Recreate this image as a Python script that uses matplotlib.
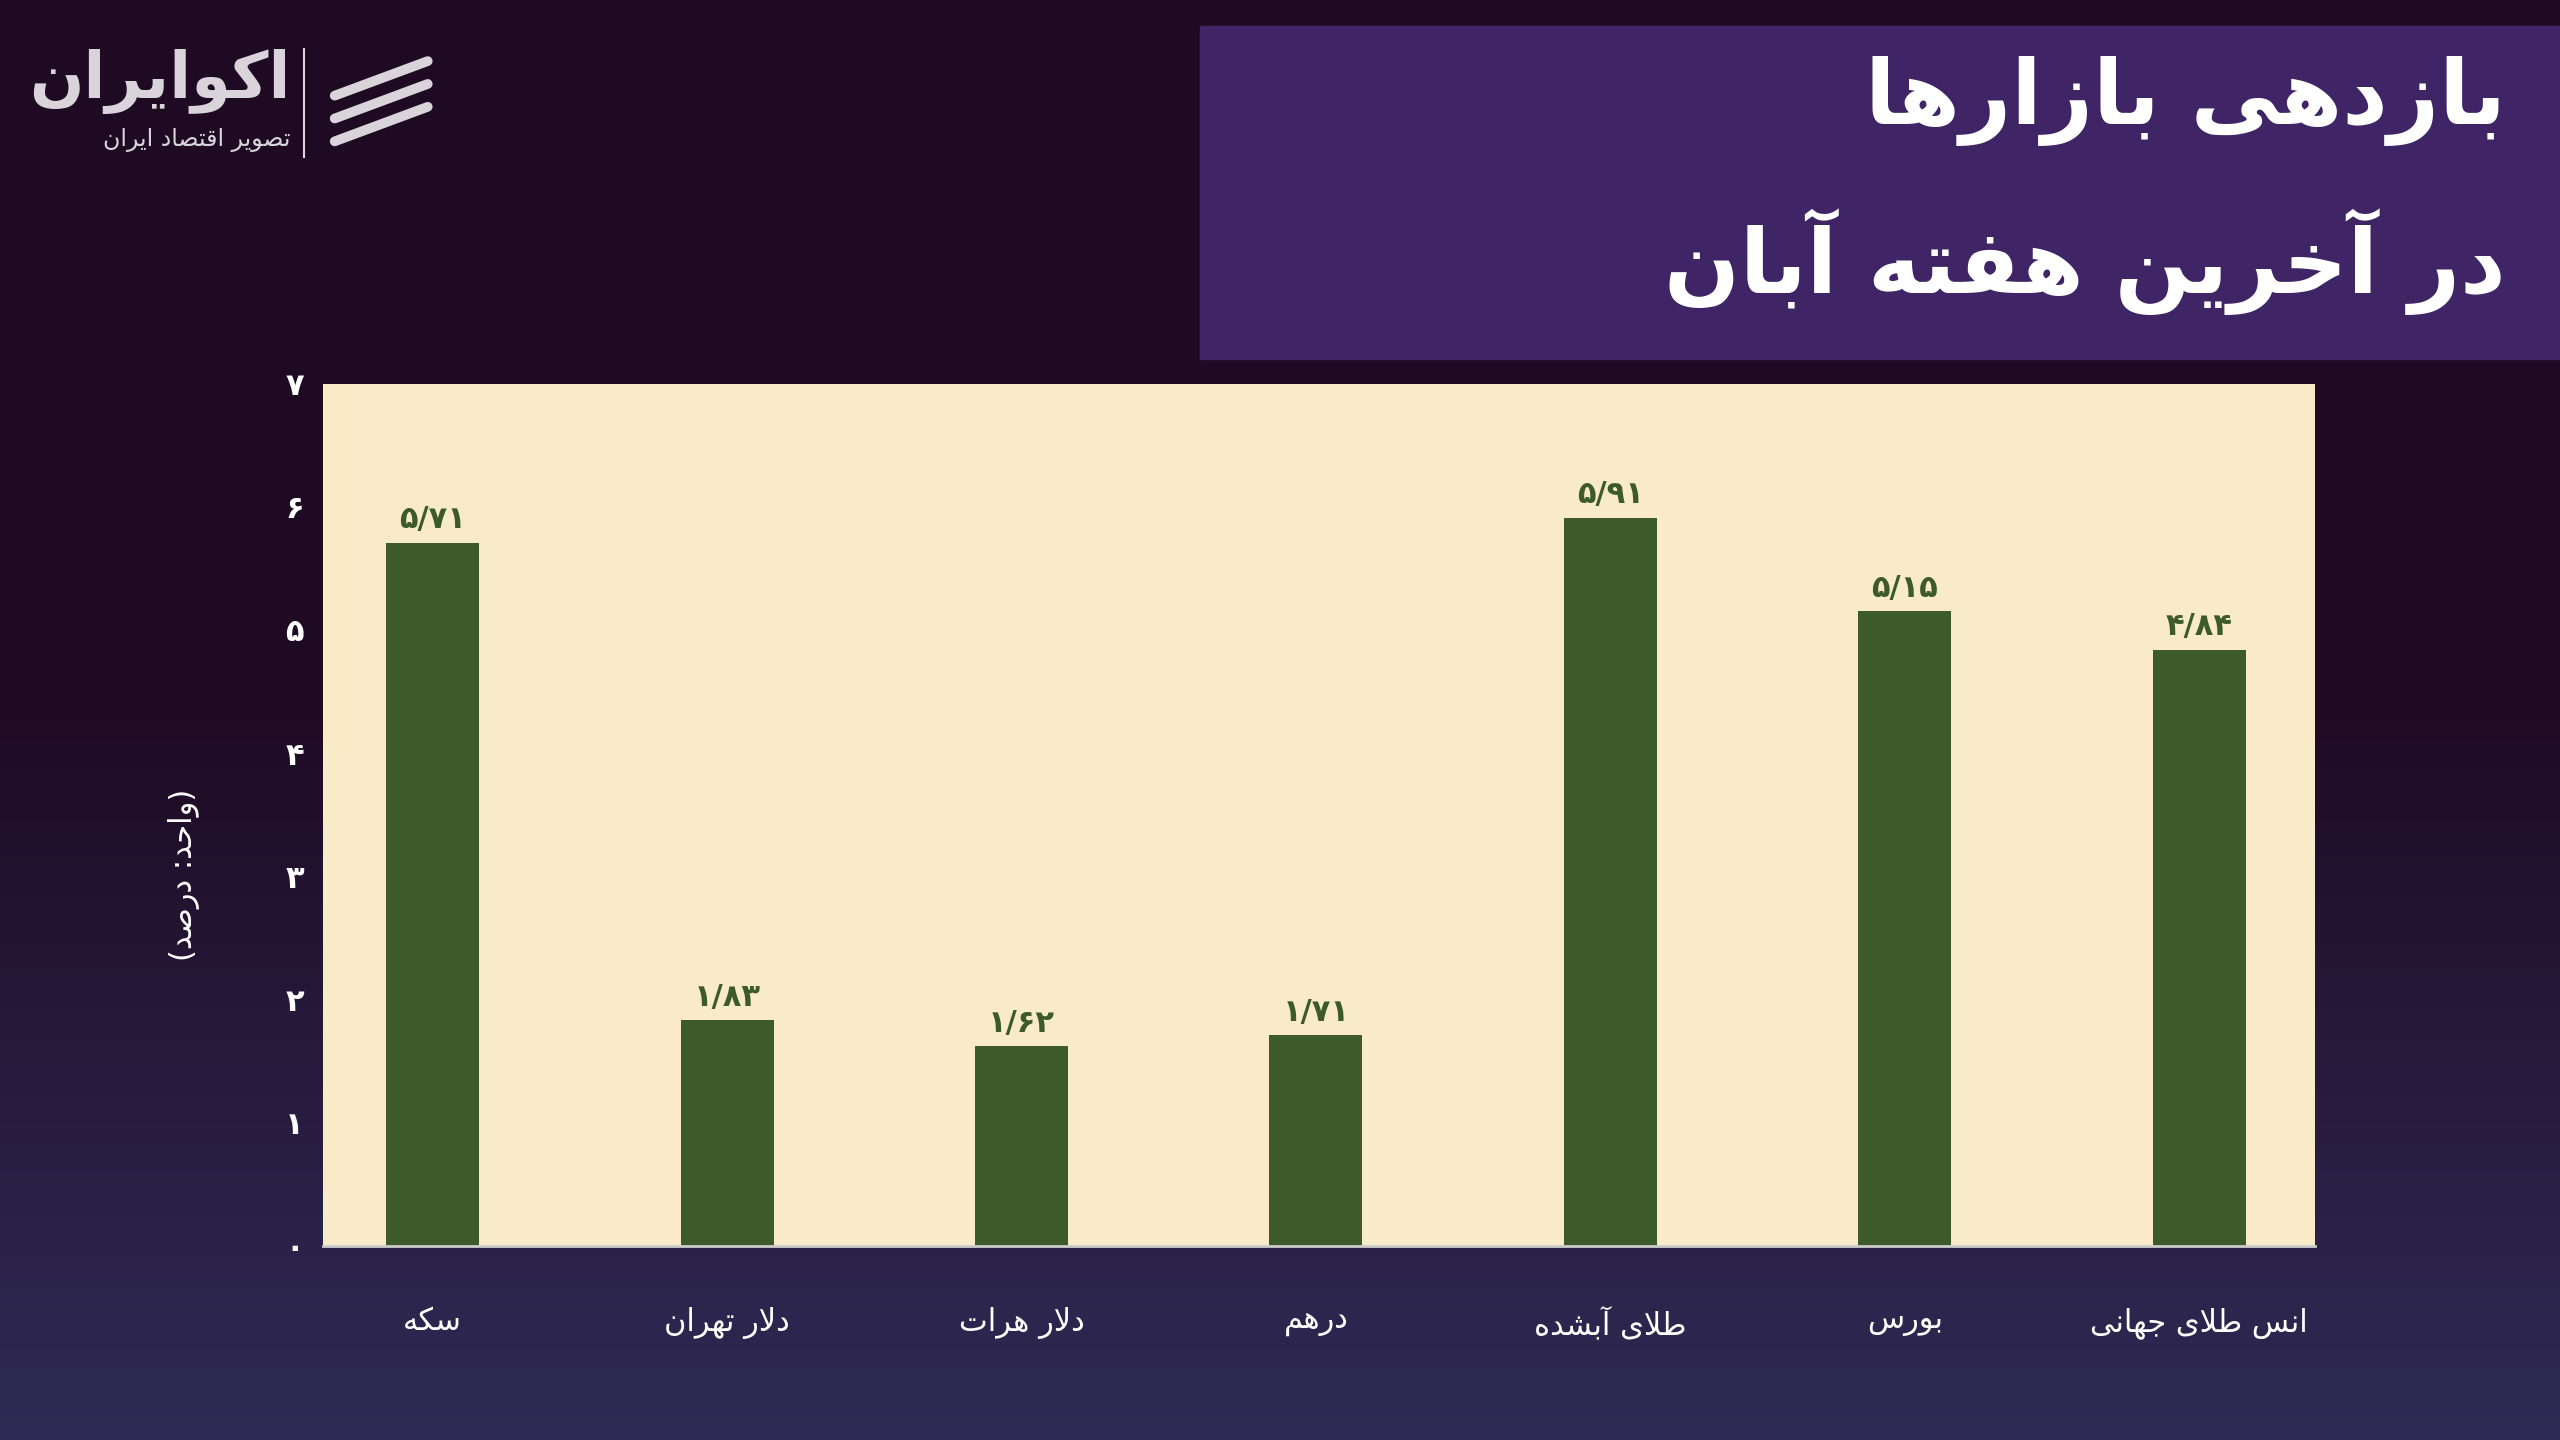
import numpy as np
import matplotlib.pyplot as plt
from matplotlib.patches import Rectangle
from matplotlib.colors import LinearSegmentedColormap

# --- minimal Persian shaping (presentation forms) + RTL ordering ---
FORMS = {  # isolated, final, initial, medial
    'ا': ('\uFE8D', '\uFE8E', None, None), 'آ': ('\uFE81', '\uFE82', None, None),
    'ب': ('\uFE8F', '\uFE90', '\uFE91', '\uFE92'), 'ت': ('\uFE95', '\uFE96', '\uFE97', '\uFE98'),
    'ج': ('\uFE9D', '\uFE9E', '\uFE9F', '\uFEA0'), 'ح': ('\uFEA1', '\uFEA2', '\uFEA3', '\uFEA4'),
    'خ': ('\uFEA5', '\uFEA6', '\uFEA7', '\uFEA8'), 'د': ('\uFEA9', '\uFEAA', None, None),
    'ر': ('\uFEAD', '\uFEAE', None, None), 'ز': ('\uFEAF', '\uFEB0', None, None),
    'س': ('\uFEB1', '\uFEB2', '\uFEB3', '\uFEB4'), 'ش': ('\uFEB5', '\uFEB6', '\uFEB7', '\uFEB8'),
    'ص': ('\uFEB9', '\uFEBA', '\uFEBB', '\uFEBC'), 'ط': ('\uFEC1', '\uFEC2', '\uFEC3', '\uFEC4'),
    'ف': ('\uFED1', '\uFED2', '\uFED3', '\uFED4'), 'ق': ('\uFED5', '\uFED6', '\uFED7', '\uFED8'),
    'ک': ('\uFB8E', '\uFB8F', '\uFB90', '\uFB91'), 'ل': ('\uFEDD', '\uFEDE', '\uFEDF', '\uFEE0'),
    'م': ('\uFEE1', '\uFEE2', '\uFEE3', '\uFEE4'), 'ن': ('\uFEE5', '\uFEE6', '\uFEE7', '\uFEE8'),
    'ه': ('\uFEE9', '\uFEEA', '\uFEEB', '\uFEEC'), 'و': ('\uFEED', '\uFEEE', None, None),
    'ی': ('\uFBFC', '\uFBFD', '\uFBFE', '\uFBFF'),
}
MIRROR = {'(': ')', ')': '('}


def fa(s):
    out = []
    chars = list(s)
    i = 0
    while i < len(chars):
        c = chars[i]
        prev = chars[i - 1] if i > 0 else None
        prev_joins = prev in FORMS and FORMS[prev][2] is not None
        if c == 'ل' and i + 1 < len(chars) and chars[i + 1] in 'اآ':
            out.append('\uFEFC' if prev_joins else '\uFEFB')
            i += 2
            continue
        if c in FORMS:
            f = FORMS[c]
            nxt = chars[i + 1] if i + 1 < len(chars) else None
            next_joins = nxt in FORMS and f[2] is not None
            if prev_joins and next_joins:
                out.append(f[3])
            elif prev_joins:
                out.append(f[1])
            elif next_joins:
                out.append(f[2])
            else:
                out.append(f[0])
        else:
            out.append(MIRROR.get(c, c))
        i += 1
    return ''.join(reversed(out))


def fa_num(v, nd=2):
    s = f"{v:.{nd}f}" if nd else str(int(v))
    return s.translate(str.maketrans('0123456789.', '۰۱۲۳۴۵۶۷۸۹/'))


plt.rcParams['font.family'] = ['DejaVu Sans', 'Noto Sans']

categories = ['سکه', 'دلار تهران', 'دلار هرات', 'درهم', 'طلای آبشده', 'بورس', 'انس طلای جهانی']
values = [5.71, 1.83, 1.62, 1.71, 5.91, 5.15, 4.84]
yticks = [0, 1, 2, 3, 4, 5, 6, 7]

BAR = '#3d5a29'
fig = plt.figure(figsize=(25.6, 14.4), dpi=100)

# background gradient
bg = fig.add_axes([0, 0, 1, 1], zorder=-10)
grad = np.linspace(0, 1, 256)[:, None]
cm = LinearSegmentedColormap.from_list('bg', ['#1e0a22', '#1f0b24', '#2f2b56'])
bg.imshow(grad, aspect='auto', cmap=cm, extent=[0, 1, 0, 1], origin='upper')
bg.set_xlim(0, 1); bg.set_ylim(0, 1); bg.axis('off')

# title box
bg.add_patch(Rectangle((735 / 1568, 1 - 220 / 882), 1 - 735 / 1568, 204 / 882, color='#3f2466', zorder=2))
bg.text(1535 / 1568, 1 - 62 / 882, fa('بازدهی بازارها'), ha='right', va='center',
        color='white', fontsize=64, fontweight='bold', zorder=3)
bg.text(1535 / 1568, 1 - 160 / 882, fa('در آخرین هفته آبان'), ha='right', va='center',
        color='white', fontsize=64, fontweight='bold', zorder=3)

# logo
bg.text(178 / 1568, 1 - 50 / 882, fa('اکوایران'), ha='right', va='center', color='#d8d4da',
        fontsize=46, fontweight='bold')
bg.text(178 / 1568, 1 - 86 / 882, fa('تصویر اقتصاد ایران'), ha='right', va='center', color='#d8d4da',
        fontsize=17)
bg.plot([186 / 1568, 186 / 1568], [1 - 30 / 882, 1 - 96 / 882], color='#d8d4da', lw=1.5)
for k in range(3):
    yy = 1 - (48 + k * 14) / 882
    bg.plot([205 / 1568, 262 / 1568], [yy - 0.012, yy + 0.012], color='#d8d4da', lw=7,
            solid_capstyle='round')

# chart
ax = fig.add_axes([198 / 1568, 1 - 763 / 882, 1220 / 1568, 528 / 882])
ax.set_facecolor('#faebc8')
x = np.arange(len(categories))
ax.bar(x, values, width=0.316, color=BAR, zorder=2)
for xi, v in zip(x, values):
    ax.text(xi, v + 0.07, fa_num(v), ha='center', va='bottom', color=BAR, fontsize=22, fontweight='bold')
ax.set_xlim(-0.372, len(categories) - 1 + 0.394)
ax.set_ylim(0, 7)
ax.set_yticks(yticks)
ax.set_yticklabels([fa_num(t, 0) for t in yticks], color='white', fontsize=22, fontweight='bold')
ax.set_xticks(x)
ax.set_xticklabels([fa(c) for c in categories], color='white', fontsize=22)
ax.tick_params(axis='both', length=0)
ax.tick_params(axis='x', pad=44)
ax.tick_params(axis='y', pad=14)
for s in ['top', 'right', 'left']:
    ax.spines[s].set_visible(False)
ax.spines['bottom'].set_color('#cccccc')
ax.spines['bottom'].set_linewidth(2)
ax.set_ylabel(fa('(واحد: درصد)'), color='white', fontsize=22, rotation=90)
ax.yaxis.set_label_coords(-0.062, 0.43)

fig.savefig('out.png', dpi=100)
